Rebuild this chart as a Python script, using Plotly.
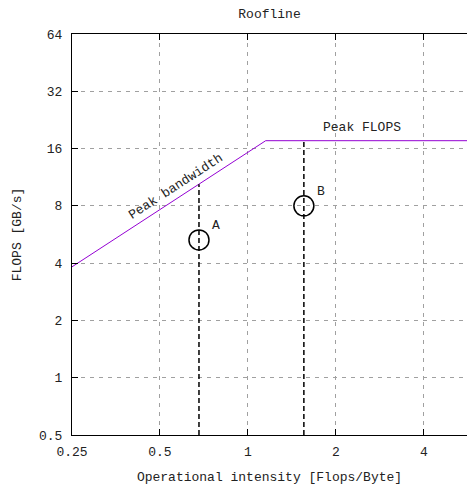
import math
import plotly.graph_objects as go

# ---- data ----
peak_flops = 17.6          # GFLOPS
peak_bw = 15.3             # GB/s
x_min = 0.25
x_max = 5.62
y_min = 0.5
y_max = 64.0
point_names = ["A", "B"]
point_x = [0.68, 1.554]
point_y = [5.3, 8.0]
x_ticks = [0.25, 0.5, 1, 2, 4]
x_tick_labels = ["0.25", "0.5", "1", "2", "4"]
y_ticks = [0.5, 1, 2, 4, 8, 16, 32, 64]
y_tick_labels = ["0.5", "1", "2", "4", "8", "16", "32", "64"]

FONT = "Liberation Mono, Courier New, monospace"
W, H = 467, 487
ML, MR, MT, MB = 72, 0, 34, 52

knee = peak_flops / peak_bw
roof_x = [x_min, knee, x_max]
roof_y = [min(peak_bw * v, peak_flops) for v in roof_x]

fig = go.Figure()
fig.add_trace(go.Scatter(x=roof_x, y=roof_y, mode="lines",
                         line=dict(color="#9400d3", width=1), hoverinfo="skip"))

for px, py in zip(point_x, point_y):
    top = min(peak_bw * px, peak_flops)
    fig.add_trace(go.Scatter(x=[px, px], y=[y_min, top], mode="lines",
                             line=dict(color="black", width=1.5, dash="5px,3px"),
                             hoverinfo="skip"))

fig.add_trace(go.Scatter(x=point_x, y=point_y, mode="markers",
                         marker=dict(symbol="circle-open", size=20,
                                     line=dict(color="black", width=1.5), color="black")))

for name, px, py in zip(point_names, point_x, point_y):
    fig.add_annotation(x=math.log10(px), y=math.log10(py), text=name, showarrow=False,
                       xshift=17, yshift=14, font=dict(family=FONT, size=13, color="#222"))

# pixel scales for text angle along the bandwidth line
plot_w = W - ML - MR
plot_h = H - MT - MB
xpx = plot_w / (math.log10(x_max) - math.log10(x_min))
ypx = plot_h / (math.log10(y_max) - math.log10(y_min))
angle = -math.degrees(math.atan(ypx / xpx))

bw_lab_x = 0.554
fig.add_annotation(x=math.log10(bw_lab_x), y=math.log10(peak_bw * bw_lab_x), text="Peak bandwidth",
                   showarrow=False, textangle=angle, yshift=15, xshift=3,
                   font=dict(family=FONT, size=13, color="#222"))
fig.add_annotation(x=math.log10(2.45), y=math.log10(peak_flops), text="Peak FLOPS",
                   showarrow=False, yshift=13,
                   font=dict(family=FONT, size=13, color="#222"))

fig.update_layout(
    width=W, height=H, margin=dict(l=ML, r=MR, t=MT, b=MB),
    plot_bgcolor="white", paper_bgcolor="white", showlegend=False,
    font=dict(family=FONT, size=13, color="#222"),
    title=dict(text="Roofline", x=0.5, xref="paper", y=1 - 13 / H, yanchor="middle",
               font=dict(family=FONT, size=13, color="#222")),
    xaxis=dict(type="log", range=[math.log10(x_min), math.log10(x_max)],
               tickvals=x_ticks, ticktext=x_tick_labels,
               ticks="inside", ticklen=6, tickcolor="black", tickwidth=1,
               showline=True, linecolor="black", linewidth=1, mirror="ticks",
               showgrid=True, gridcolor="#a0a0a0", griddash="4px,5px", gridwidth=1,
               zeroline=False, ticklabelstandoff=4,
               title=dict(text="Operational intensity [Flops/Byte]", standoff=13,
                          font=dict(family=FONT, size=13, color="#222"))),
    yaxis=dict(type="log", range=[math.log10(y_min), math.log10(y_max)],
               tickvals=y_ticks, ticktext=y_tick_labels,
               ticks="inside", ticklen=6, tickcolor="black", tickwidth=1,
               showline=True, linecolor="black", linewidth=1,
               showgrid=True, gridcolor="#a0a0a0", griddash="4px,5px", gridwidth=1,
               zeroline=False, ticklabelstandoff=6,
               title=dict(text="FLOPS [GB/s]", standoff=14,
                          font=dict(family=FONT, size=13, color="#222"))),
)

fig.write_html("out.html")
